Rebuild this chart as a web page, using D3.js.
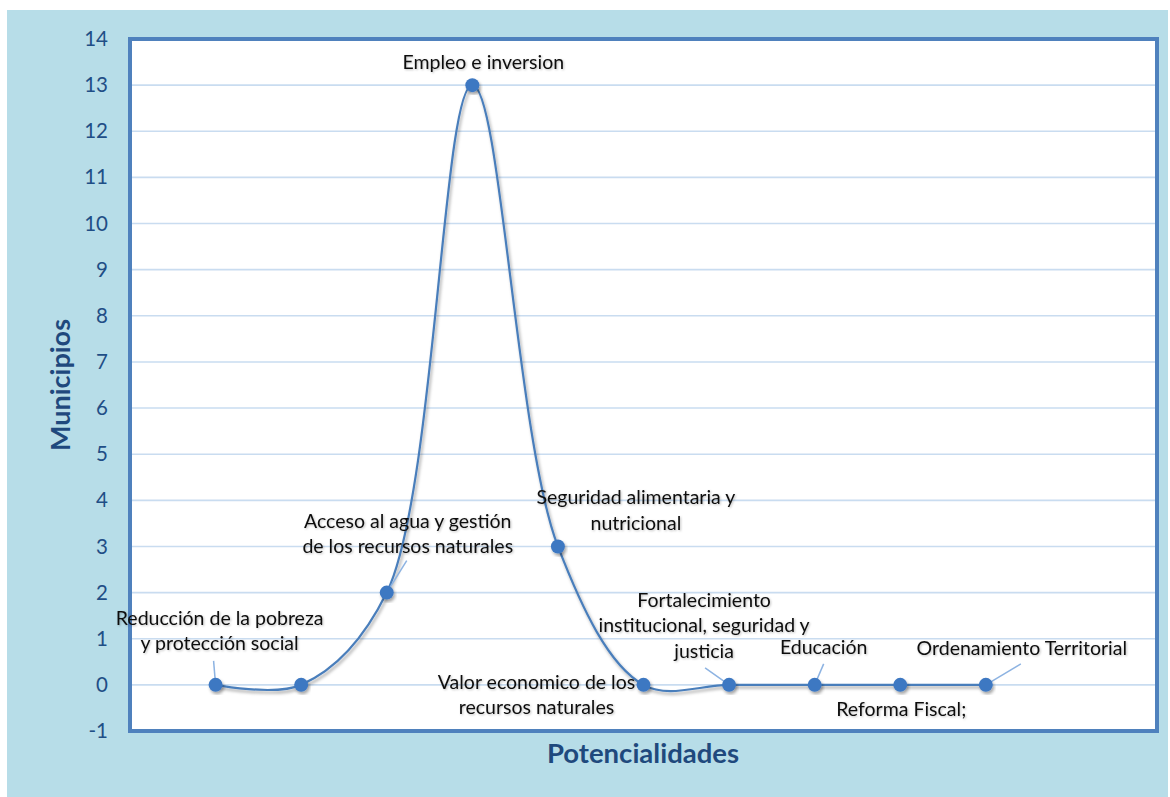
<!DOCTYPE html>
<html>
<head>
<meta charset="utf-8">
<script src="https://cdn.jsdelivr.net/npm/d3@7"></script>
<style>
  body { margin: 0; background: #fff; }
  svg { display: block; font-family: Lato, "Noto Sans", sans-serif; }
</style>
</head>
<body>
<svg id="chart" width="1170" height="797"></svg>
<script>
// -- data
var categories = ["Reducción de la pobreza y protección social", "", "Acceso al agua y gestión de los recursos naturales",
  "Empleo e inversion", "Seguridad alimentaria y nutricional", "Valor economico de los recursos naturales",
  "Fortalecimiento institucional, seguridad y justicia", "Educación", "Reforma Fiscal;", "Ordenamiento Territorial"];
var xValues = [1, 2, 3, 4, 5, 6, 7, 8, 9, 10];
var municipios = [0, 0, 2, 13, 3, 0, 0, 0, 0, 0];
var yTicks = [-1, 0, 1, 2, 3, 4, 5, 6, 7, 8, 9, 10, 11, 12, 13, 14];

// label text lines
var labelLines = [
  ["Reducción de la pobreza", "y protección social"],
  [],
  ["Acceso al agua y gestión", "de los recursos naturales"],
  ["Empleo e inversion"],
  ["Seguridad alimentaria y", "nutricional"],
  ["Valor economico de los", "recursos naturales"],
  ["Fortalecimiento", "institucional, seguridad y", "justicia"],
  ["Educación"],
  ["Reforma Fiscal;"],
  ["Ordenamiento Territorial"]
];
// label placement offset from its point (px) + leader line end
var labelPos = [
  {dx: 4, dy: -67, leader: [-2, -24]},
  null,
  {dx: 21, dy: -72, leader: [20, -32]},
  {dx: 11, dy: -23},
  {dx: 78, dy: -49},
  {dx: -107, dy: -3},
  {dx: -25, dy: -85, leader: [-24, -17]},
  {dx: 9, dy: -38, leader: [9, -21]},
  {dx: 1, dy: 24},
  {dx: 36, dy: -37, leader: [35, -21]}
];

var svg = d3.select("#chart");
var W = 1170, H = 797;
var plot = {left: 130, top: 39, right: 1157, bottom: 731};

// -- drop shadow filters
var defs = svg.append("defs");
var f = defs.append("filter").attr("id", "shadow").attr("x", "-20%").attr("y", "-20%").attr("width", "140%").attr("height", "140%");
f.append("feDropShadow").attr("dx", 1.5).attr("dy", 2.5).attr("stdDeviation", 1.8).attr("flood-color", "#000").attr("flood-opacity", 0.35);
var ft = defs.append("filter").attr("id", "tshadow");
ft.append("feDropShadow").attr("dx", 1).attr("dy", 1).attr("stdDeviation", 0.8).attr("flood-color", "#000").attr("flood-opacity", 0.25);

// -- background
svg.append("rect").attr("x", 7).attr("y", 10).attr("width", W - 9).attr("height", H - 10).attr("fill", "#b7dde8");
svg.append("rect").attr("x", plot.left).attr("y", plot.top)
  .attr("width", plot.right - plot.left).attr("height", plot.bottom - plot.top).attr("fill", "#fff");

var x = d3.scaleLinear().domain([0, 12]).range([plot.left, plot.right]);
var y = d3.scaleLinear().domain([-1, 14]).range([plot.bottom, plot.top]);

// -- gridlines
svg.append("g").selectAll("line").data(yTicks.filter(function(d){ return d > -1 && d < 14; }))
  .enter().append("line")
  .attr("x1", plot.left).attr("x2", plot.right)
  .attr("y1", function(d){ return y(d); }).attr("y2", function(d){ return y(d); })
  .attr("stroke", "#c9dcf0").attr("stroke-width", 1.6);

// -- y axis labels
var yAxis = d3.axisLeft(y).tickValues(yTicks).tickSize(0).tickPadding(22)
  .tickFormat(function(d){ return String(d); });
var ga = svg.append("g").attr("transform", "translate(" + plot.left + ",0)").call(yAxis);
ga.select(".domain").remove();
ga.selectAll("text").attr("font-size", 20.5).attr("fill", "#1f4e86").attr("font-family", "Lato, sans-serif");

// -- plot border
svg.append("rect").attr("x", plot.left).attr("y", plot.top)
  .attr("width", plot.right - plot.left).attr("height", plot.bottom - plot.top)
  .attr("fill", "none").attr("stroke", "#4f81bd").attr("stroke-width", 4);

// -- smoothed line
var line = d3.line()
  .x(function(d, i){ return x(xValues[i]); })
  .y(function(d){ return y(d); })
  .curve(d3.curveCatmullRom.alpha(0.5));

svg.append("path").datum(municipios)
  .attr("d", line).attr("fill", "none")
  .attr("stroke", "#4a7ebb").attr("stroke-width", 2.2)
  .attr("filter", "url(#shadow)");

// -- leader lines
var leaders = svg.append("g");
municipios.forEach(function(v, i){
  var p = labelPos[i];
  if (!p || !p.leader) return;
  leaders.append("line")
    .attr("x1", x(xValues[i])).attr("y1", y(v))
    .attr("x2", x(xValues[i]) + p.leader[0]).attr("y2", y(v) + p.leader[1])
    .attr("stroke", "#8db3e2").attr("stroke-width", 1.5);
});

// -- markers
svg.append("g").selectAll("circle").data(municipios)
  .enter().append("circle")
  .attr("cx", function(d, i){ return x(xValues[i]); })
  .attr("cy", function(d){ return y(d); })
  .attr("r", 7)
  .attr("fill", "#3e78c2")
  .attr("filter", "url(#shadow)");

// -- data labels
var labels = svg.append("g").attr("filter", "url(#tshadow)");
municipios.forEach(function(v, i){
  var p = labelPos[i];
  if (!p) return;
  var cx = x(xValues[i]) + p.dx, cy = y(v) + p.dy;
  var t = labels.append("text").attr("text-anchor", "middle")
    .attr("font-size", 19.5).attr("fill", "#111");
  labelLines[i].forEach(function(s, k){
    t.append("tspan").attr("x", cx).attr("y", cy + 7 + k * 25.5).text(s);
  });
});

// -- axis titles
svg.append("text").attr("x", 643).attr("y", 763)
  .attr("text-anchor", "middle").attr("font-size", 27.5).attr("font-weight", "bold")
  .attr("fill", "#1f497d").text("Potencialidades");
svg.append("text").attr("transform", "translate(70," + 385 + ") rotate(-90)")
  .attr("text-anchor", "middle").attr("font-size", 27).attr("font-weight", "bold")
  .attr("fill", "#1f497d").text("Municipios");
</script>
</body>
</html>
